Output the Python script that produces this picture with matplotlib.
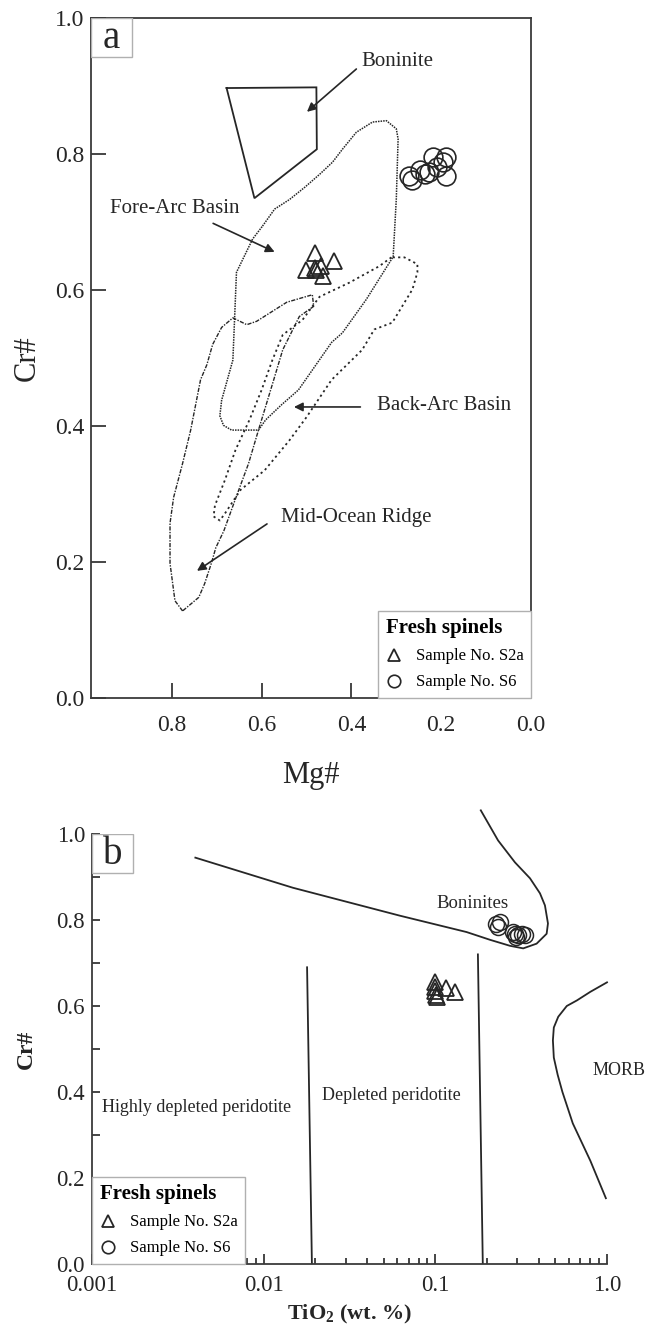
import numpy as np
import matplotlib
matplotlib.use("Agg")
import matplotlib.pyplot as plt
from matplotlib.lines import Line2D
from matplotlib.patches import Rectangle
from matplotlib.ticker import FixedLocator, NullFormatter

plt.rcParams['font.family'] = ['Liberation Serif', 'DejaVu Serif']
INK = '#262626'

# ---------------- Panel a data (Mg#, Cr#) ----------------
s2a_mg = [0.482, 0.501, 0.482, 0.467, 0.464, 0.438, 0.478]
s2a_cr = [0.655, 0.629, 0.633, 0.635, 0.620, 0.642, 0.630]
s6_mg = [0.272, 0.264, 0.247, 0.236, 0.227, 0.219, 0.210, 0.197, 0.190, 0.190]
s6_cr = [0.768, 0.762, 0.776, 0.770, 0.773, 0.795, 0.781, 0.788, 0.795, 0.768]

boninite_mg = [0.678, 0.478, 0.477, 0.616]
boninite_cr = [0.897, 0.898, 0.807, 0.735]

forearc_mg = [0.598, 0.571, 0.538, 0.504, 0.471, 0.442, 0.420, 0.389, 0.353, 0.322,
              0.300, 0.296, 0.300, 0.307, 0.367, 0.420, 0.444, 0.518, 0.556, 0.591,
              0.607, 0.667, 0.685, 0.693, 0.689, 0.664, 0.660, 0.656, 0.620]
forearc_cr = [0.694, 0.719, 0.733, 0.751, 0.770, 0.788, 0.807, 0.832, 0.847, 0.849,
              0.837, 0.822, 0.734, 0.649, 0.586, 0.537, 0.523, 0.453, 0.431, 0.409,
              0.394, 0.394, 0.401, 0.415, 0.438, 0.497, 0.561, 0.626, 0.675]

mor_mg = [0.776, 0.793, 0.804, 0.804, 0.796, 0.776, 0.758, 0.736, 0.722, 0.709,
          0.689, 0.664, 0.633, 0.611, 0.544, 0.487, 0.484, 0.516, 0.553, 0.573,
          0.607, 0.629, 0.657, 0.684, 0.702, 0.712, 0.727, 0.740]
mor_cr = [0.128, 0.143, 0.198, 0.257, 0.295, 0.345, 0.394, 0.468, 0.490, 0.520,
          0.545, 0.559, 0.549, 0.554, 0.582, 0.593, 0.576, 0.561, 0.512, 0.468,
          0.394, 0.345, 0.295, 0.246, 0.221, 0.198, 0.168, 0.148]

backarc_mg = [0.311, 0.338, 0.404, 0.471, 0.509, 0.553, 0.576, 0.600, 0.627, 0.658,
              0.682, 0.704, 0.707, 0.693, 0.680, 0.647, 0.593, 0.538, 0.500, 0.444,
              0.376, 0.349, 0.309, 0.264, 0.253, 0.253, 0.282]
backarc_cr = [0.648, 0.635, 0.611, 0.590, 0.556, 0.534, 0.497, 0.453, 0.409, 0.365,
              0.320, 0.283, 0.267, 0.261, 0.273, 0.306, 0.335, 0.379, 0.413, 0.468,
              0.512, 0.542, 0.552, 0.601, 0.626, 0.638, 0.648]

# ---------------- Panel b data (TiO2, Cr#) ----------------
s2a_ti = [0.099, 0.100, 0.100, 0.101, 0.102, 0.115, 0.130]
s2a_cr_b = [0.655, 0.645, 0.635, 0.625, 0.620, 0.643, 0.633]
s6_ti = [0.225, 0.232, 0.238, 0.284, 0.304, 0.318, 0.297, 0.333, 0.290]
s6_cr_b = [0.790, 0.783, 0.795, 0.772, 0.764, 0.768, 0.760, 0.764, 0.768]

bon_curve_ti = [0.0040, 0.0148, 0.0622, 0.152, 0.208, 0.272, 0.325, 0.389, 0.445,
                0.453, 0.435, 0.407, 0.356, 0.291, 0.232, 0.184]
bon_curve_cr = [0.945, 0.875, 0.810, 0.772, 0.754, 0.740, 0.734, 0.745, 0.768,
                0.792, 0.834, 0.862, 0.897, 0.934, 0.985, 1.055]
morb_curve_ti = [1.0, 0.80, 0.668, 0.583, 0.52, 0.49, 0.484, 0.49, 0.516, 0.55, 0.632, 0.80, 0.985]
morb_curve_cr = [0.655, 0.633, 0.613, 0.600, 0.575, 0.550, 0.520, 0.480, 0.440, 0.400, 0.327, 0.240, 0.153]
line1_ti = [0.0191, 0.0179]
line1_cr = [0.0, 0.690]
line2_ti = [0.189, 0.177]
line2_cr = [0.0, 0.720]

fig = plt.figure(figsize=(6.49, 13.30), dpi=100)

# ================= Panel a =================
ax = fig.add_axes([91/649, 1-698/1330, 440/649, 680/1330])
ax.set_xlim(0.98, 0.0)
ax.set_ylim(0.0, 1.0)


def closed(a):
    return list(a) + [a[0]]


ax.plot(closed(boninite_mg), closed(boninite_cr), color=INK, lw=1.3, solid_joinstyle='miter')
ax.plot(closed(forearc_mg), closed(forearc_cr), color=INK, lw=1.1, ls=(0, (1, 0.7)))
ax.plot(closed(backarc_mg), closed(backarc_cr), color=INK, lw=1.3, ls=(0, (1.2, 1.8)))
ax.plot(closed(mor_mg), closed(mor_cr), color=INK, lw=1.0, ls=(0, (3, 1, 1, 1)))

ax.plot(s2a_mg, s2a_cr, ls='none', marker='^', ms=12, mfc='none', mec=INK, mew=1.3)
ax.plot(s6_mg, s6_cr, ls='none', marker='o', ms=13.5, mfc='none', mec=INK, mew=1.2)

arrow = dict(arrowstyle='-|>', color=INK, lw=1.2, mutation_scale=13, shrinkA=0, shrinkB=0)
ax.text(0.378, 0.936, 'Boninite', fontsize=15, ha='left', va='center', color=INK)
ax.annotate('', xy=(0.499, 0.862), xytext=(0.389, 0.925), arrowprops=arrow)
ax.text(0.938, 0.720, 'Fore-Arc Basin', fontsize=15, ha='left', va='center', color=INK)
ax.annotate('', xy=(0.571, 0.656), xytext=(0.708, 0.698), arrowprops=arrow)
ax.text(0.342, 0.430, 'Back-Arc Basin', fontsize=15, ha='left', va='center', color=INK)
ax.annotate('', xy=(0.528, 0.428), xytext=(0.380, 0.428), arrowprops=arrow)
ax.text(0.556, 0.266, 'Mid-Ocean Ridge', fontsize=15, ha='left', va='center', color=INK)
ax.annotate('', xy=(0.744, 0.187), xytext=(0.588, 0.256), arrowprops=arrow)

ax.set_xticks([0.8, 0.6, 0.4, 0.2, 0.0])
ax.set_xticklabels(['0.8', '0.6', '0.4', '0.2', '0.0'])
ax.set_yticks([0.0, 0.2, 0.4, 0.6, 0.8, 1.0])
ax.set_yticklabels(['0.0', '0.2', '0.4', '0.6', '0.8', '1.0'])
ax.tick_params(direction='in', length=11, width=1.2, labelsize=17, colors=INK)
ax.tick_params(axis='x', pad=12)
ax.tick_params(axis='y', pad=5)
for sp in ax.spines.values():
    sp.set_linewidth(1.3)
    sp.set_color('#3a3a3a')
ax.set_xlabel('Mg#', fontsize=22, labelpad=18, color=INK)
ax.set_ylabel('Cr#', fontsize=22, labelpad=9, color=INK)

ax.add_patch(Rectangle((0, 1 - 39/680), 41/440, 39/680, transform=ax.transAxes,
                       facecolor='white', edgecolor='#b0b0b0', lw=1.0, zorder=4))
ax.text(20.5/440, 1 - 21/680, 'a', transform=ax.transAxes, fontsize=28,
        ha='center', va='center', color=INK, zorder=5)

handles = [Line2D([], [], ls='none', marker='^', ms=9, mfc='none', mec=INK, mew=1.3),
           Line2D([], [], ls='none', marker='o', ms=9, mfc='none', mec=INK, mew=1.2)]
leg = ax.legend(handles, ['Sample No. S2a', 'Sample No. S6'], loc='lower right',
                bbox_to_anchor=(1, 0), borderaxespad=0, fancybox=False,
                edgecolor='#b0b0b0', framealpha=1, title='Fresh spinels',
                title_fontproperties={'weight': 'bold', 'size': 15}, fontsize=12,
                alignment='left', handlelength=1.0, handletextpad=0.8,
                labelspacing=0.6, borderpad=0.45)
leg.get_frame().set_linewidth(1.0)

# ================= Panel b =================
bx = fig.add_axes([92/649, 1-1264/1330, 515/649, 430/1330])
bx.set_xscale('log')
bx.set_xlim(0.001, 1.0)
bx.set_ylim(0.0, 1.0)
bx.spines['top'].set_visible(False)
bx.spines['right'].set_visible(False)
for sp in ('left', 'bottom'):
    bx.spines[sp].set_linewidth(1.3)
    bx.spines[sp].set_color('#3a3a3a')

bx.plot(bon_curve_ti, bon_curve_cr, color=INK, lw=1.3, clip_on=False)
bx.plot(morb_curve_ti, morb_curve_cr, color=INK, lw=1.3, clip_on=False)
bx.plot(line1_ti, line1_cr, color=INK, lw=1.3)
bx.plot(line2_ti, line2_cr, color=INK, lw=1.3)

bx.plot(s2a_ti, s2a_cr_b, ls='none', marker='^', ms=11, mfc='none', mec=INK, mew=1.3)
bx.plot(s6_ti, s6_cr_b, ls='none', marker='o', ms=11.5, mfc='none', mec=INK, mew=1.1)

bx.text(0.102, 0.838, 'Boninites', fontsize=13.5, ha='left', va='center', color=INK)
bx.text(0.00115, 0.365, 'Highly depleted peridotite', fontsize=13, ha='left', va='center', color=INK)
bx.text(0.0219, 0.393, 'Depleted peridotite', fontsize=13, ha='left', va='center', color=INK)
bx.text(0.828, 0.450, 'MORB', fontsize=13, ha='left', va='center', color=INK)

bx.set_xticks([0.001, 0.01, 0.1, 1.0])
bx.set_xticklabels(['0.001', '0.01', '0.1', '1.0'])
bx.xaxis.set_minor_locator(FixedLocator(
    [m * d for d in (0.001, 0.01, 0.1) for m in range(2, 10)]))
bx.xaxis.set_minor_formatter(NullFormatter())
bx.set_yticks([0.0, 0.2, 0.4, 0.6, 0.8, 1.0])
bx.set_yticklabels(['0.0', '0.2', '0.4', '0.6', '0.8', '1.0'])
bx.yaxis.set_minor_locator(FixedLocator([0.1, 0.3, 0.5, 0.7, 0.9]))
bx.tick_params(which='both', direction='in', width=1.2, colors=INK, labelsize=16.5)
bx.tick_params(axis='x', which='major', length=7, pad=8)
bx.tick_params(axis='x', which='minor', length=4)
bx.tick_params(axis='y', which='both', length=6, pad=5)
bx.set_xlabel('TiO$_\\mathregular{2}$ (wt. %)', fontsize=16, fontweight='bold', labelpad=5, color=INK)
bx.set_ylabel('Cr#', fontsize=17, fontweight='bold', labelpad=14, color=INK)

bx.add_patch(Rectangle((0, 1 - 39/430), 41/515, 39/430, transform=bx.transAxes,
                       facecolor='white', edgecolor='#b0b0b0', lw=1.0, zorder=4))
bx.text(20.5/515, 1 - 20/430, 'b', transform=bx.transAxes, fontsize=28,
        ha='center', va='center', color=INK, zorder=5)

leg2 = bx.legend(handles, ['Sample No. S2a', 'Sample No. S6'], loc='lower left',
                 bbox_to_anchor=(0, 0), borderaxespad=0, fancybox=False,
                 edgecolor='#b0b0b0', framealpha=1, title='Fresh spinels',
                 title_fontproperties={'weight': 'bold', 'size': 15}, fontsize=12,
                 alignment='left', handlelength=1.0, handletextpad=0.8,
                 labelspacing=0.6, borderpad=0.45)
leg2.get_frame().set_linewidth(1.0)

fig.savefig('out.png', dpi=100)
